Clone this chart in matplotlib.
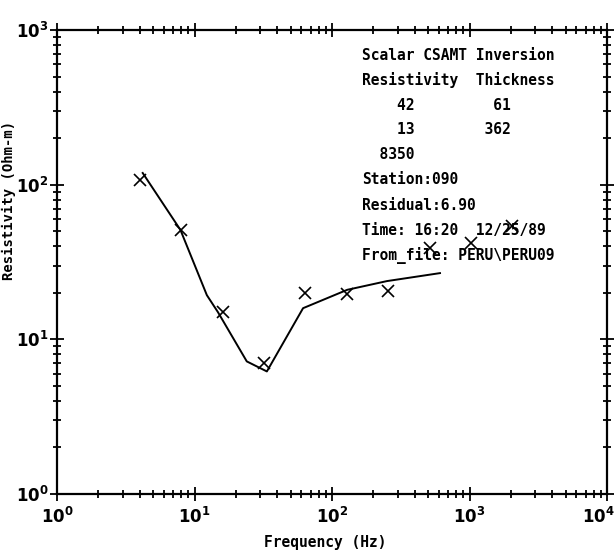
import matplotlib.pyplot as plt
import matplotlib.transforms as mtransforms
import numpy as np

# observed soundings (binary CSAMT frequencies)
freq_obs = [4, 8, 16, 32, 64, 128, 256, 512, 1024, 2048]
rho_obs = [107, 51, 15, 7.0, 20, 19.6, 20.5, 39, 42, 54]

# model curve
freq_model = [4.2, 7.9, 12.3, 14.8, 24, 33.6, 61.6, 129, 251, 610]
rho_model = [119, 51, 19.3, 15, 7.2, 6.2, 15.9, 20.9, 23.8, 26.8]

x_ticks = [1, 10, 100, 1000, 10000]
x_ticklabels = [r'$\mathbf{10^{0}}$', r'$\mathbf{10^{1}}$', r'$\mathbf{10^{2}}$',
                r'$\mathbf{10^{3}}$', r'$\mathbf{10^{4}}$']
y_ticks = [1, 10, 100, 1000]
y_ticklabels = [r'$\mathbf{10^{0}}$', r'$\mathbf{10^{1}}$', r'$\mathbf{10^{2}}$',
                r'$\mathbf{10^{3}}$']

info_lines = [
    "Scalar CSAMT Inversion",
    "Resistivity  Thickness",
    "    42         61",
    "    13        362",
    "  8350",
    "Station:090",
    "Residual:6.90",
    "Time: 16:20  12/25/89",
    "From_file: PERU\\PERU09",
]

fig = plt.figure(figsize=(6.16, 5.59), dpi=100)
ax = fig.add_axes([57 / 616, 65 / 559, 550 / 616, 464 / 559])

ax.plot(freq_model, rho_model, color='black', lw=1.4)
ax.plot(freq_obs, rho_obs, ls='none', marker='x', ms=8, mew=1.2, color='black')

ax.set_xscale('log')
ax.set_yscale('log')
ax.set_xlim(1, 1e4)
ax.set_ylim(1, 1e3)
ax.set_xticks(x_ticks, x_ticklabels)
ax.set_yticks(y_ticks, y_ticklabels)

for s in ax.spines.values():
    s.set_linewidth(1.6)

ax.tick_params(which='both', direction='inout', top=True, right=True,
               width=1.3, labelsize=12)
ax.tick_params(which='major', length=10)
ax.tick_params(which='minor', length=6)
ax.tick_params(axis='x', pad=4)
ax.tick_params(axis='y', pad=1)

last = ax.get_xticklabels()[-1]
last.set_horizontalalignment('right')
last.set_transform(last.get_transform() +
                   mtransforms.ScaledTranslation(8 / 100, 0, fig.dpi_scale_trans))

fig.text(325 / 616, 1 - 543 / 559, "Frequency (Hz)", ha='center', va='center',
         family='DejaVu Sans Mono', fontweight='bold', fontsize=10.5)
fig.text(9 / 616, 1 - 200 / 559, "Resistivity (Ohm-m)", ha='center', va='center',
         rotation=90, family='DejaVu Sans Mono', fontweight='bold', fontsize=10)

y0 = 55
for i, line in enumerate(info_lines):
    fig.text(362 / 616, 1 - (y0 + i * 25) / 559, line, ha='left', va='center',
             family='DejaVu Sans Mono', fontweight='bold', fontsize=10.5)

fig.savefig('out.png', dpi=100)
